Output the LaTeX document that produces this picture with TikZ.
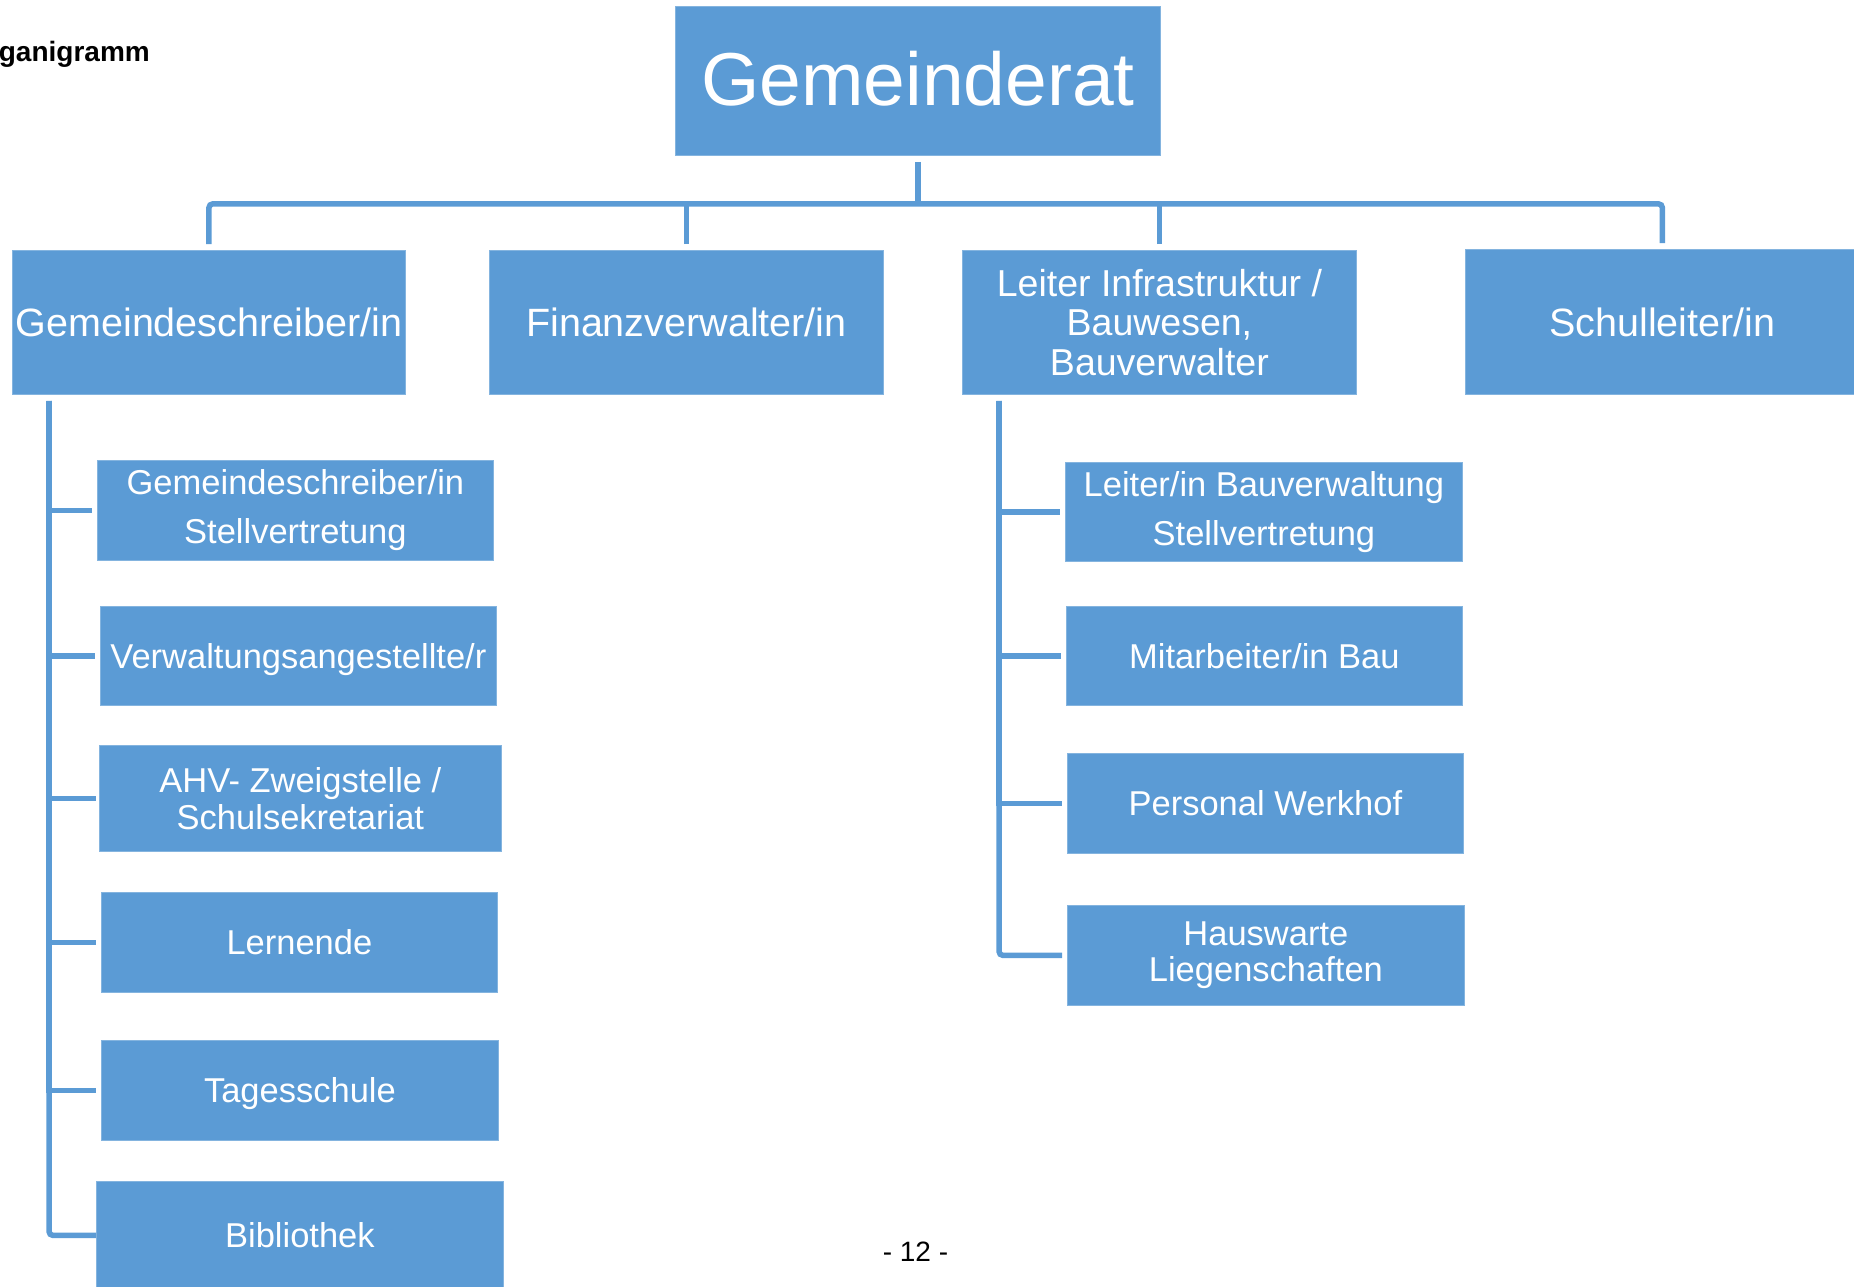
\documentclass[tikz,border=0pt]{standalone}
\usepackage{fontspec}
\setmainfont{Liberation Sans}
\definecolor{blu}{HTML}{5B9BD5}
\begin{document}
\begin{tikzpicture}[x=1pt,y=-1pt,
  box/.style={rectangle, fill=blu, draw=blu!75!white, line width=0.8pt, text=white, inner sep=0pt, align=center, anchor=north west},
  lvtwo/.style={box, font=\fontsize{39.5}{39.5}\selectfont, minimum height=144pt},
  lvthree/.style={box, font=\fontsize{34.5}{36}\selectfont, minimum height=99pt},
  conn/.style={draw=blu, line width=5.5pt}]
\useasboundingbox (0,0) rectangle (1854,1286);

% title fragments
\node[font=\bfseries\fontsize{28}{30}\selectfont, anchor=base east, inner sep=0pt] (title) at (150,61) {ganigramm};
\node[font=\fontsize{28}{30}\selectfont, anchor=base, inner sep=0pt] (pg) at (915.5,1261) {- 12 -};

% top
\node[box, minimum width=485pt, minimum height=149pt, text depth=5pt, font=\fontsize{75}{80}\selectfont] (gr) at (675,6) {Gemeinderat};

% level 2
\node[lvtwo, minimum width=393pt] (gs) at (12,250) {Gemeindeschreiber/in};
\node[lvtwo, minimum width=394pt] (fv) at (489,250) {Finanzverwalter/in};
\node[lvtwo, minimum width=394pt, font=\fontsize{37.5}{39.5}\selectfont] (li) at (962,250) {Leiter Infrastruktur /\\Bauwesen,\\Bauverwalter};
\node[lvtwo, minimum width=394pt, minimum height=145pt] (sl) at (1465,249) {Schulleiter/in};

% left column
\node[lvthree, minimum width=396pt, minimum height=100pt, font=\fontsize{34.5}{49}\selectfont] (l1) at (97,460) {Gemeindeschreiber/in\\Stellvertretung};
\node[lvthree, minimum width=396pt, text depth=0pt] (l2) at (100,606) {Verwaltungsangestellte/r};
\node[lvthree, minimum width=402pt, minimum height=106pt, font=\fontsize{34.5}{37}\selectfont] (l3) at (99,745) {AHV- Zweigstelle /\\Schulsekretariat};
\node[lvthree, minimum width=396pt, minimum height=100pt] (l4) at (101,892) {Lernende};
\node[lvthree, minimum width=397pt, minimum height=100pt, text depth=0pt] (l5) at (101,1040) {Tagesschule};
\node[lvthree, minimum width=407pt, minimum height=108pt] (l6) at (96,1181) {Bibliothek};

% right column
\node[lvthree, minimum width=397pt, minimum height=99pt, font=\fontsize{34.5}{49}\selectfont] (r1) at (1065,462) {Leiter/in Bauverwaltung\\Stellvertretung};
\node[lvthree, minimum width=396pt] (r2) at (1066,606) {Mitarbeiter/in Bau};
\node[lvthree, minimum width=396pt, minimum height=100pt] (r3) at (1067,753) {Personal Werkhof};
\node[lvthree, minimum width=397pt, minimum height=100pt, font=\fontsize{34.5}{36}\selectfont] (r4) at (1067,905) {Hauswarte\\Liegenschaften};

% top connectors
\coordinate (bar) at ([yshift=-48pt]gr.south);
\draw[conn] ([yshift=-6pt]gr.south) -- (bar);
\draw[conn, rounded corners=4pt] ([yshift=6pt]gs.north) |- (bar) -| ([yshift=6pt]sl.north);
\draw[conn] ([yshift=6pt]fv.north) -- (fv.north |- bar);
\draw[conn] ([yshift=6pt]li.north) -- (li.north |- bar);

% left connectors
\coordinate (lv) at ([xshift=37pt,yshift=-6pt]gs.south west);
\draw[conn] (lv) |- ([xshift=-5pt]l1.west);
\draw[conn] (lv) |- ([xshift=-5pt]l2.west);
\draw[conn] (lv) |- ([xshift=-3pt]l3.west);
\draw[conn] (lv) |- ([xshift=-5pt]l4.west);
\draw[conn] (lv) |- ([xshift=-5pt]l5.west);
\draw[conn, rounded corners=4pt] (lv) |- (l6.west);

% right connectors
\coordinate (rv) at ([xshift=37pt,yshift=-6pt]li.south west);
\draw[conn] (rv) |- ([xshift=-5pt]r1.west);
\draw[conn] (rv) |- ([xshift=-5pt]r2.west);
\draw[conn] (rv) |- ([xshift=-5pt]r3.west);
\draw[conn, rounded corners=4pt] (rv) |- ([xshift=-5pt]r4.west);
\end{tikzpicture}
\end{document}
